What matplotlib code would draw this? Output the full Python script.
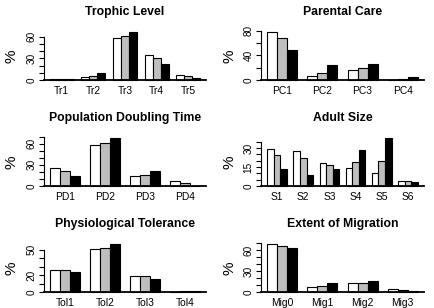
import matplotlib

matplotlib.use("Agg")
import matplotlib.pyplot as plt
import numpy as np

plt.rcParams["font.family"] = ["Liberation Sans", "DejaVu Sans"]
plt.rcParams["xtick.labelsize"] = 7.4
plt.rcParams["ytick.labelsize"] = 7.2

# bar heights (%), three series per category: white, grey, black
trophic_labels = ["Tr1", "Tr2", "Tr3", "Tr4", "Tr5"]
trophic_white = [1.0, 3.7, 58.0, 34.0, 7.4]
trophic_grey = [1.0, 5.5, 61.3, 30.5, 6.0]
trophic_black = [1.0, 10.0, 66.5, 22.6, 3.2]

care_labels = ["PC1", "PC2", "PC3", "PC4"]
care_white = [78.0, 6.5, 17.0, 0.0]
care_grey = [67.5, 12.0, 20.0, 1.5]
care_black = [48.0, 24.0, 26.5, 5.0]

doubling_labels = ["PD1", "PD2", "PD3", "PD4"]
doubling_white = [25.0, 57.6, 13.8, 6.7]
doubling_grey = [21.4, 61.0, 16.2, 4.3]
doubling_black = [14.8, 68.0, 21.4, 0.0]

size_labels = ["S1", "S2", "S3", "S4", "S5", "S6"]
size_white = [29.0, 27.7, 18.3, 14.6, 10.2, 3.9]
size_grey = [24.8, 22.2, 16.7, 19.3, 20.0, 3.9]
size_black = [13.8, 8.6, 13.8, 28.7, 38.0, 3.1]

tol_labels = ["Tol1", "Tol2", "Tol3", "Tol4"]
tol_white = [26.5, 50.6, 19.4, 0.0]
tol_grey = [25.7, 52.6, 18.6, 1.0]
tol_black = [23.3, 57.0, 15.4, 1.0]

mig_labels = ["Mig0", "Mig1", "Mig2", "Mig3"]
mig_white = [69.0, 7.2, 12.5, 4.3]
mig_grey = [66.3, 8.6, 12.5, 2.9]
mig_black = [63.4, 12.5, 15.4, 1.0]

W, H = 435, 308
fig = plt.figure(figsize=(W / 100, H / 100), dpi=100)

COLS = [(43.8, 206.2), (261.3, 423.7)]
ZERO_Y = [80, 186, 292]
FILLS = ["white", "#bebebe", "black"]

panels = [
    ("Trophic Level", trophic_labels, [trophic_white, trophic_grey, trophic_black], 60, 10, [0, 30, 60]),
    ("Parental Care", care_labels, [care_white, care_grey, care_black], 80, 20, [0, 40, 80]),
    ("Population Doubling Time", doubling_labels, [doubling_white, doubling_grey, doubling_black], 70, 10, [0, 30, 60]),
    ("Adult Size", size_labels, [size_white, size_grey, size_black], 35, 5, [0, 15, 30]),
    ("Physiological Tolerance", tol_labels, [tol_white, tol_grey, tol_black], 50, 10, [0, 20, 50]),
    ("Extent of Migration", mig_labels, [mig_white, mig_grey, mig_black], 70, 10, [0, 30, 60]),
]

for k, (title, labels, series, top_tick, step, shown) in enumerate(panels):
    x0, x1 = COLS[k % 2]
    y0 = ZERO_Y[k // 2]
    ax = fig.add_axes([x0 / W, 1 - (y0 + 2) / H, (x1 - x0) / W, 52 / H])

    # R barplot(beside=TRUE) geometry: one unit gap before every group
    n = len(labels)
    starts = np.arange(n) * 4 + 1
    for j, vals in enumerate(series):
        ax.bar(starts + j, vals, width=1, align="edge", color=FILLS[j],
               edgecolor="black", linewidth=0.8)
    ymax = max(max(s) for s in series)
    ax.set_xlim(1 - 0.04 * (4 * n - 1), 4 * n + 0.04 * (4 * n - 1))
    ax.set_ylim(-0.04 * ymax, 1.04 * ymax)

    ticks = np.arange(0, top_tick + step / 2, step)
    ax.set_yticks(ticks, [str(int(t)) if t in shown else "" for t in ticks])
    ax.tick_params(axis="y", length=3.5, width=0.8, pad=2, labelrotation=90)
    for lab in ax.get_yticklabels():
        lab.set_va("center")
    ax.set_xticks(starts + 1.5, labels)
    ax.tick_params(axis="x", length=0, pad=4)

    for side in ("top", "right"):
        ax.spines[side].set_visible(False)
    ax.spines["left"].set_bounds(0, top_tick)
    ax.spines["left"].set_linewidth(0.8)
    ax.spines["bottom"].set_position(("data", 0))
    ax.spines["bottom"].set_linewidth(1.3)

    ax.text(0.5, 1 + 18 / 52, title, transform=ax.transAxes, ha="center",
            va="center", fontsize=8.8, fontweight="bold")
    ax.text(-32 / (x1 - x0), 0.5, "%", transform=ax.transAxes, rotation=90,
            ha="center", va="center", fontsize=11)

fig.savefig("out.png", dpi=100)
